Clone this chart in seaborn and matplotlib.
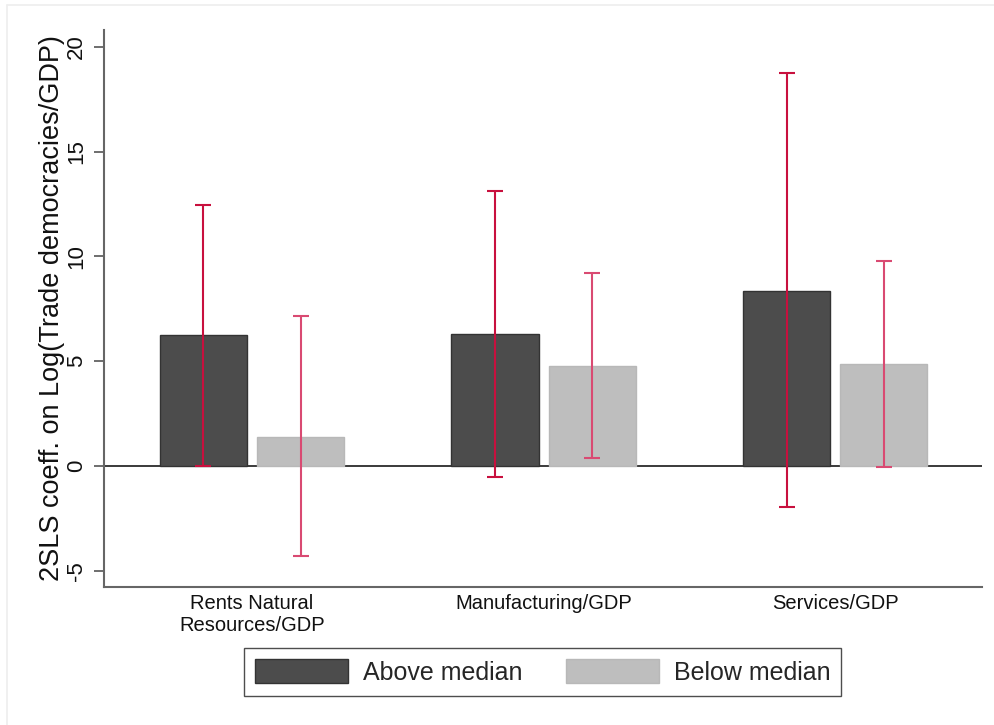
import matplotlib
matplotlib.use("Agg")
import matplotlib.pyplot as plt
import matplotlib.lines as mlines
from matplotlib import font_manager
from matplotlib.patches import Patch
import pandas as pd
import seaborn as sns

# Coefficients and 95% confidence bounds by sector group
categories = ["Rents Natural\nResources/GDP", "Manufacturing/GDP", "Services/GDP"]
groups = ["Above median", "Below median"]
above_coef = [6.25, 6.30, 8.37]
above_low = [0.02, -0.51, -1.95]
above_high = [12.45, 13.12, 18.75]
below_coef = [1.40, 4.77, 4.87]
below_low = [-4.29, 0.37, -0.03]
below_high = [7.16, 9.19, 9.80]
yticks = [-5, 0, 5, 10, 15, 20]

sns.set_theme(style="white")
installed = {f.name for f in font_manager.fontManager.ttflist}
base_font = "Liberation Sans" if "Liberation Sans" in installed else "DejaVu Sans"
plt.rcParams["font.family"] = [base_font, "DejaVu Sans"]

df = pd.DataFrame({
    "sector": categories * 2,
    "group": [groups[0]] * 3 + [groups[1]] * 3,
    "coef": above_coef + below_coef,
})

colors = {"Above median": "#4c4c4c", "Below median": "#bebebe"}
edges = {"Above median": "#333333", "Below median": "#b8b8b8"}
ci_colors = {"Above median": "#c8103e", "Below median": "#d94a72"}

fig = plt.figure(figsize=(9.94, 7.25), dpi=100)
ax = fig.add_axes([0.1046, 0.1903, 0.8834, 0.7683])

sns.barplot(data=df, x="sector", y="coef", hue="group", order=categories,
            hue_order=groups, palette=colors, width=0.667, gap=0.105,
            errorbar=None, ax=ax, legend=False, zorder=2)

# zero reference line
ax.axhline(0, color="#3a3a3a", lw=1.4, zorder=1.5)

lows = {"Above median": above_low, "Below median": below_low}
highs = {"Above median": above_high, "Below median": below_high}
for container, g in zip(ax.containers, groups):
    for bar, lo, hi in zip(container, lows[g], highs[g]):
        bar.set_edgecolor(edges[g])
        bar.set_linewidth(1.0)
        xc = bar.get_x() + bar.get_width() / 2
        ax.errorbar([xc], [(lo + hi) / 2], yerr=[[(hi - lo) / 2], [(hi - lo) / 2]],
                    fmt="none", ecolor=ci_colors[g], elinewidth=1.5,
                    capsize=5.5, capthick=1.5, zorder=3)

ax.set_xlim(-0.508, 2.504)
ax.set_ylim(-5.77, 20.8)
ax.set_yticks(yticks)
ax.set_yticklabels([str(t) for t in yticks], rotation=90, va="center",
                   fontsize=16, color="#111111")
ax.tick_params(axis="y", left=True, length=7, width=1.2, color="#555555", pad=5)
ax.tick_params(axis="x", bottom=False, length=0, pad=5, labelsize=14.5,
               labelcolor="#111111")
ax.set_xlabel("")
ax.set_ylabel("2SLS coeff. on Log(Trade democracies/GDP)", fontsize=19.5,
              color="#111111", labelpad=1)

for side in ("top", "right"):
    ax.spines[side].set_visible(False)
for side in ("left", "bottom"):
    ax.spines[side].set_color("#666666")
    ax.spines[side].set_linewidth(1.5)

handles = [Patch(facecolor=colors[g], edgecolor=edges[g], linewidth=1.0) for g in groups]
leg = ax.legend(handles, groups, ncol=2, loc="upper center",
                bbox_to_anchor=(0.546, 0.106), bbox_transform=fig.transFigure,
                frameon=True, fancybox=False, fontsize=18, borderaxespad=0,
                handlelength=3.7, handleheight=1.1, handletextpad=0.6,
                columnspacing=1.75, borderpad=0.45)
leg.get_frame().set_edgecolor("#222222")
leg.get_frame().set_linewidth(1.0)

# faint outer frame of the graph region
fig.add_artist(mlines.Line2D([0.007, 1.0], [0.993, 0.993], color="#eeeeee",
                             lw=1.2, transform=fig.transFigure))
fig.add_artist(mlines.Line2D([0.007, 0.007], [0.0, 0.993], color="#eeeeee",
                             lw=1.2, transform=fig.transFigure))

fig.savefig("out.png", dpi=100)
